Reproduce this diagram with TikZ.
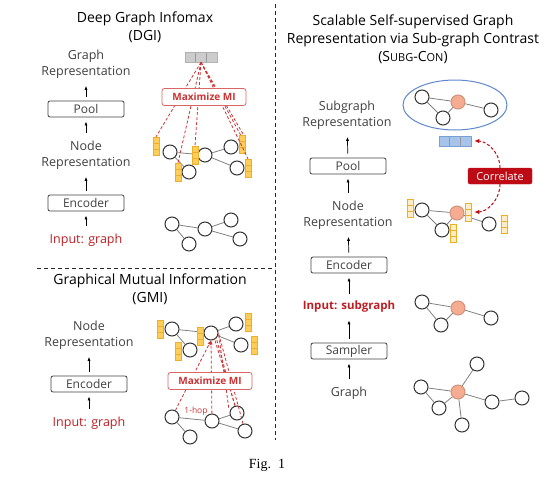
\documentclass[tikz,border=0pt]{standalone}
\usepackage{fontspec}
\setmainfont{Liberation Serif}
\newfontfamily\diagfont{Open Sans}
\usetikzlibrary{shapes.geometric,arrows.meta}

\definecolor{mired}{RGB}{205,50,50}
\definecolor{indark}{RGB}{190,30,35}
\definecolor{corrfill}{RGB}{190,10,20}
\definecolor{corange}{RGB}{245,172,145}
\definecolor{ybarfill}{RGB}{255,205,90}
\definecolor{ybarline}{RGB}{235,175,40}
\definecolor{bbarfill}{RGB}{165,195,235}
\definecolor{bbarline}{RGB}{120,160,210}
\definecolor{ellline}{RGB}{95,135,205}

\begin{document}
\begin{tikzpicture}[x=1pt,y=-1pt,font=\diagfont,
    gnode/.style={circle,draw=black!80,fill=white,line width=1pt,minimum size=14pt,inner sep=0pt},
    cnode/.style={gnode,draw=corange!85!black,fill=corange},
    edge/.style={draw=black!50,line width=0.8pt},
    stagebox/.style={draw=black!75,line width=0.8pt,rounded corners=2pt,minimum width=76pt,minimum height=16pt,inner sep=0pt,
        text=black!75,font=\diagfont\fontsize{12}{13}\selectfont},
    lbl/.style={align=center,text=black!75,font=\diagfont\fontsize{12.5}{16}\selectfont},
    title/.style={align=center,font=\diagfont\fontsize{14}{18}\selectfont},
    uparrow/.style={-{Latex[length=4pt,width=3pt]},line width=0.7pt,shorten <=4pt,shorten >=4pt},
    featbar/.style={draw=ybarline,fill=ybarfill,line width=0.5pt,minimum width=6pt,minimum height=18pt,inner sep=0pt,
        path picture={\draw[ybarline,line width=0.5pt]
          ([yshift=6pt]path picture bounding box.south west) -- ([yshift=6pt]path picture bounding box.south east)
          ([yshift=12pt]path picture bounding box.south west) -- ([yshift=12pt]path picture bounding box.south east);}},
    hollowbar/.style={featbar,fill=ybarfill!35},
    readbar/.style={minimum width=32pt,minimum height=10pt,inner sep=0pt,line width=0.5pt,
        path picture={\draw[line width=0.5pt,white!60!black]
          ([xshift=10.67pt]path picture bounding box.south west) -- ([xshift=10.67pt]path picture bounding box.north west)
          ([xshift=21.33pt]path picture bounding box.south west) -- ([xshift=21.33pt]path picture bounding box.north west);}},
    mibox/.style={draw=mired!75,line width=0.8pt,rounded corners=2.5pt,fill=white,text=mired,minimum width=84pt,minimum height=17pt,
        inner sep=0pt,font=\diagfont\bfseries\fontsize{10}{12}\selectfont},
    midash/.style={draw=mired,line width=0.8pt,dash pattern=on 3pt off 2pt},
    sep/.style={line width=0.9pt,dash pattern=on 4pt off 3pt,black!85}]

  \useasboundingbox (0,0) rectangle (556,482);

  % separators
  \draw[sep] (275,4) -- (275,440);
  \draw[sep] (37,268) -- (275,268);

  % ---------------- DGI ----------------
  \node[title] (dgititle) at (145,27) {Deep Graph Infomax\\(DGI)};
  \node[lbl] (dgigrep) at (86,64) {Graph\\Representation};
  \node[stagebox] (dgipool) at (86,109) {Pool};
  \node[lbl] (dginrep) at (86,155) {Node\\Representation};
  \node[stagebox] (dgienc) at (86,203) {Encoder};
  \node[lbl,text=indark] (dgiin) at (86,240) {Input: graph};
  \draw[uparrow] (dgipool) -- (dgigrep);
  \draw[uparrow] (dginrep) -- (dgipool);
  \draw[uparrow] (dgienc) -- (dginrep);
  \draw[uparrow] (dgiin) -- (dgienc);

  \node[readbar,draw=black!30,fill=black!20] (dgiread) at (201,57) {};
  \node[gnode] (a1) at (170,152) {};
  \node[gnode] (a2) at (189,172) {};
  \node[gnode] (a3) at (205,155) {};
  \node[gnode] (a4) at (231,147) {};
  \node[gnode] (a5) at (237,168) {};
  \draw[edge] (a1) -- (a3);
  \draw[edge] (a1) -- (a2);
  \draw[edge] (a3) -- (a4);
  \draw[edge] (a3) -- (a5);
  \node[featbar] (fa1) at (156,146) {};
  \node[featbar] (fa2) at (178,172) {};
  \node[featbar] (fa3) at (195,155) {};
  \node[featbar] (fa4) at (242,144) {};
  \node[featbar] (fa5) at (248,168) {};
  \draw[midash] (dgiread.south) -- (fa1.north);
  \draw[midash] (dgiread.south) -- (fa2.north);
  \draw[midash] (dgiread.south) -- (fa3.north);
  \draw[midash] (dgiread.south) -- ([xshift=-1.5pt]fa4.north);
  \draw[midash] (dgiread.south) -- ([xshift=1.5pt]fa4.north);
  \draw[midash] (dgiread.south) -- (fa5.north);
  \node[mibox] (dgimi) at (204,97) {Maximize MI};

  \node[gnode] (b1) at (172,224) {};
  \node[gnode] (b2) at (189,244) {};
  \node[gnode] (b3) at (205,229) {};
  \node[gnode] (b4) at (231,220) {};
  \node[gnode] (b5) at (240,239) {};
  \draw[edge] (b1) -- (b3);
  \draw[edge] (b1) -- (b2);
  \draw[edge] (b3) -- (b4);
  \draw[edge] (b3) -- (b5);

  % ---------------- GMI ----------------
  \node[title] (gmititle) at (150,289) {Graphical Mutual Information\\(GMI)};
  \node[lbl] (gminrep) at (89,335) {Node\\Representation};
  \node[stagebox] (gmienc) at (89,384) {Encoder};
  \node[lbl,text=indark] (gmiin) at (89,423) {Input: graph};
  \draw[uparrow] (gmienc) -- (gminrep);
  \draw[uparrow] (gmiin) -- (gmienc);

  \node[gnode] (c1) at (172,329) {};
  \node[gnode] (c2) at (190,350) {};
  \node[gnode] (c3) at (211,333) {};
  \node[gnode] (c4) at (236,324) {};
  \node[gnode] (c5) at (241,345) {};
  \draw[edge] (c1) -- (c3);
  \draw[edge] (c1) -- (c2);
  \draw[edge] (c3) -- (c4);
  \draw[edge] (c3) -- (c5);
  \node[featbar] (fc1) at (160,329) {};
  \node[featbar] (fc2) at (178,351) {};
  \node[featbar] (fc3) at (200,336) {};
  \node[featbar] (fc4) at (248,322) {};
  \node[featbar] (fc5) at (254,345) {};

  \node[gnode] (d1) at (172,417) {};
  \node[gnode] (d2) at (190,437) {};
  \node[gnode] (d3) at (212,421) {};
  \node[gnode] (d4) at (237,413) {};
  \node[gnode] (d5) at (245,431) {};
  \draw[edge] (d1) -- (d3);
  \draw[edge] (d1) -- (d2);
  \draw[edge] (d3) -- (d4);
  \draw[edge] (d3) -- (d5);
  \draw[midash,-{Latex[length=4pt,width=3.5pt]}] (d1) -- (c3.south);
  \draw[midash,-{Latex[length=4pt,width=3.5pt]}] (d3) -- (c3.south);
  \draw[midash] (d4) -- (c3.south east);
  \draw[midash] ([xshift=-2pt]d4.north) -- ([xshift=-2pt]c3.south east);
  \draw[midash] (d5) -- (c3.east);
  \draw[midash] ([xshift=-3pt]d4.north west) -- (c3.east);
  \node[text=mired,font=\diagfont\fontsize{8.5}{9}\selectfont] (hoplbl) at (196,411) {1-hop};
  \node[mibox] (gmimi) at (210,381) {Maximize MI};

  % ---------------- Subg-Con ----------------
  \node[title] (sctitle) at (413,39) {Scalable Self-supervised Graph\\Representation via Sub-graph Contrast\\(S{\fontsize{11}{12}\selectfont UBG}-C{\fontsize{11}{12}\selectfont ON})};
  \node[lbl] (scsrep) at (347,115) {Subgraph\\Representation};
  \node[stagebox] (scpool) at (348,166) {Pool};
  \node[lbl] (scnrep) at (348,215) {Node\\Representation};
  \node[stagebox] (scenc) at (349,265) {Encoder};
  \node[lbl,text=indark,font=\diagfont\bfseries\fontsize{11.5}{12}\selectfont] (scin) at (349,307) {Input: subgraph};
  \node[stagebox] (scsamp) at (349,351) {Sampler};
  \node[lbl] (scgraph) at (349,393) {Graph};
  \draw[uparrow] (scpool) -- (scsrep);
  \draw[uparrow] (scnrep) -- (scpool);
  \draw[uparrow] (scenc) -- (scnrep);
  \draw[uparrow] (scin) -- (scenc);
  \draw[uparrow] (scsamp) -- (scin);
  \draw[uparrow] (scgraph) -- (scsamp);

  \node[ellipse,draw=ellline,line width=1pt,minimum width=104pt,minimum height=50pt] (scell) at (455,105) {};
  \node[gnode] (e1) at (422,97) {};
  \node[gnode] (e2) at (443,118) {};
  \node[cnode] (eo) at (458,102) {};
  \node[gnode] (e4) at (491,110) {};
  \draw[edge] (e1) -- (eo);
  \draw[edge] (e1) -- (e2);
  \draw[edge] (e2) -- (eo);
  \draw[edge] (eo) -- (e4);
  \node[readbar,draw=bbarline,fill=bbarfill] (scread) at (455,141) {};

  \node[draw=corrfill,fill=corrfill,rounded corners=2pt,text=white,minimum width=64pt,minimum height=16pt,
      inner sep=0pt,font=\diagfont\fontsize{11}{12}\selectfont] (sccorr) at (500,176) {Correlate};

  \node[gnode] (n1) at (422,210) {};
  \node[gnode] (n2) at (442,230) {};
  \node[cnode] (no) at (457,213) {};
  \node[gnode] (n4) at (489,224) {};
  \draw[edge] (n1) -- (no);
  \draw[edge] (n1) -- (n2);
  \draw[edge] (n2) -- (no);
  \draw[edge] (no) -- (n4);
  \node[hollowbar] (fn1) at (410,208) {};
  \node[hollowbar] (fn2) at (453,233) {};
  \node[hollowbar] (fn3) at (468,212) {};
  \node[hollowbar] (fn4) at (504,224) {};

  \draw[draw=corrfill,line width=1pt,dash pattern=on 3pt off 2pt,-{Latex[length=5pt,width=4.5pt]},shorten >=3pt]
      (sccorr.north) to[out=90,in=0] (scread.east);
  \draw[draw=corrfill,line width=1pt,dash pattern=on 3pt off 2pt,-{Latex[length=5pt,width=4.5pt]},shorten >=3pt]
      (sccorr.south) to[out=-90,in=0] (fn3.east);

  \node[gnode] (s1) at (422,302) {};
  \node[gnode] (s2) at (441,325) {};
  \node[cnode] (so) at (458,308) {};
  \node[gnode] (s4) at (491,318) {};
  \draw[edge] (s1) -- (so);
  \draw[edge] (s1) -- (s2);
  \draw[edge] (s2) -- (so);
  \draw[edge] (so) -- (s4);

  \node[gnode] (g1) at (421,387) {};
  \node[gnode] (g2) at (439,408) {};
  \node[cnode] (go) at (458,392) {};
  \node[gnode] (g3) at (477,364) {};
  \node[gnode] (g4) at (492,402) {};
  \node[gnode] (g5) at (522,398) {};
  \node[gnode] (g6) at (462,425) {};
  \draw[edge] (g1) -- (go);
  \draw[edge] (g1) -- (g2);
  \draw[edge] (g2) -- (go);
  \draw[edge] (go) -- (g3);
  \draw[edge] (go) -- (g4);
  \draw[edge] (g4) -- (g5);
  \draw[edge] (go) -- (g6);

  % caption
  \node[font=\rmfamily\fontsize{14}{16}\selectfont] (figcap) at (267,465) {Fig.\ \ 1};
\end{tikzpicture}
\end{document}
